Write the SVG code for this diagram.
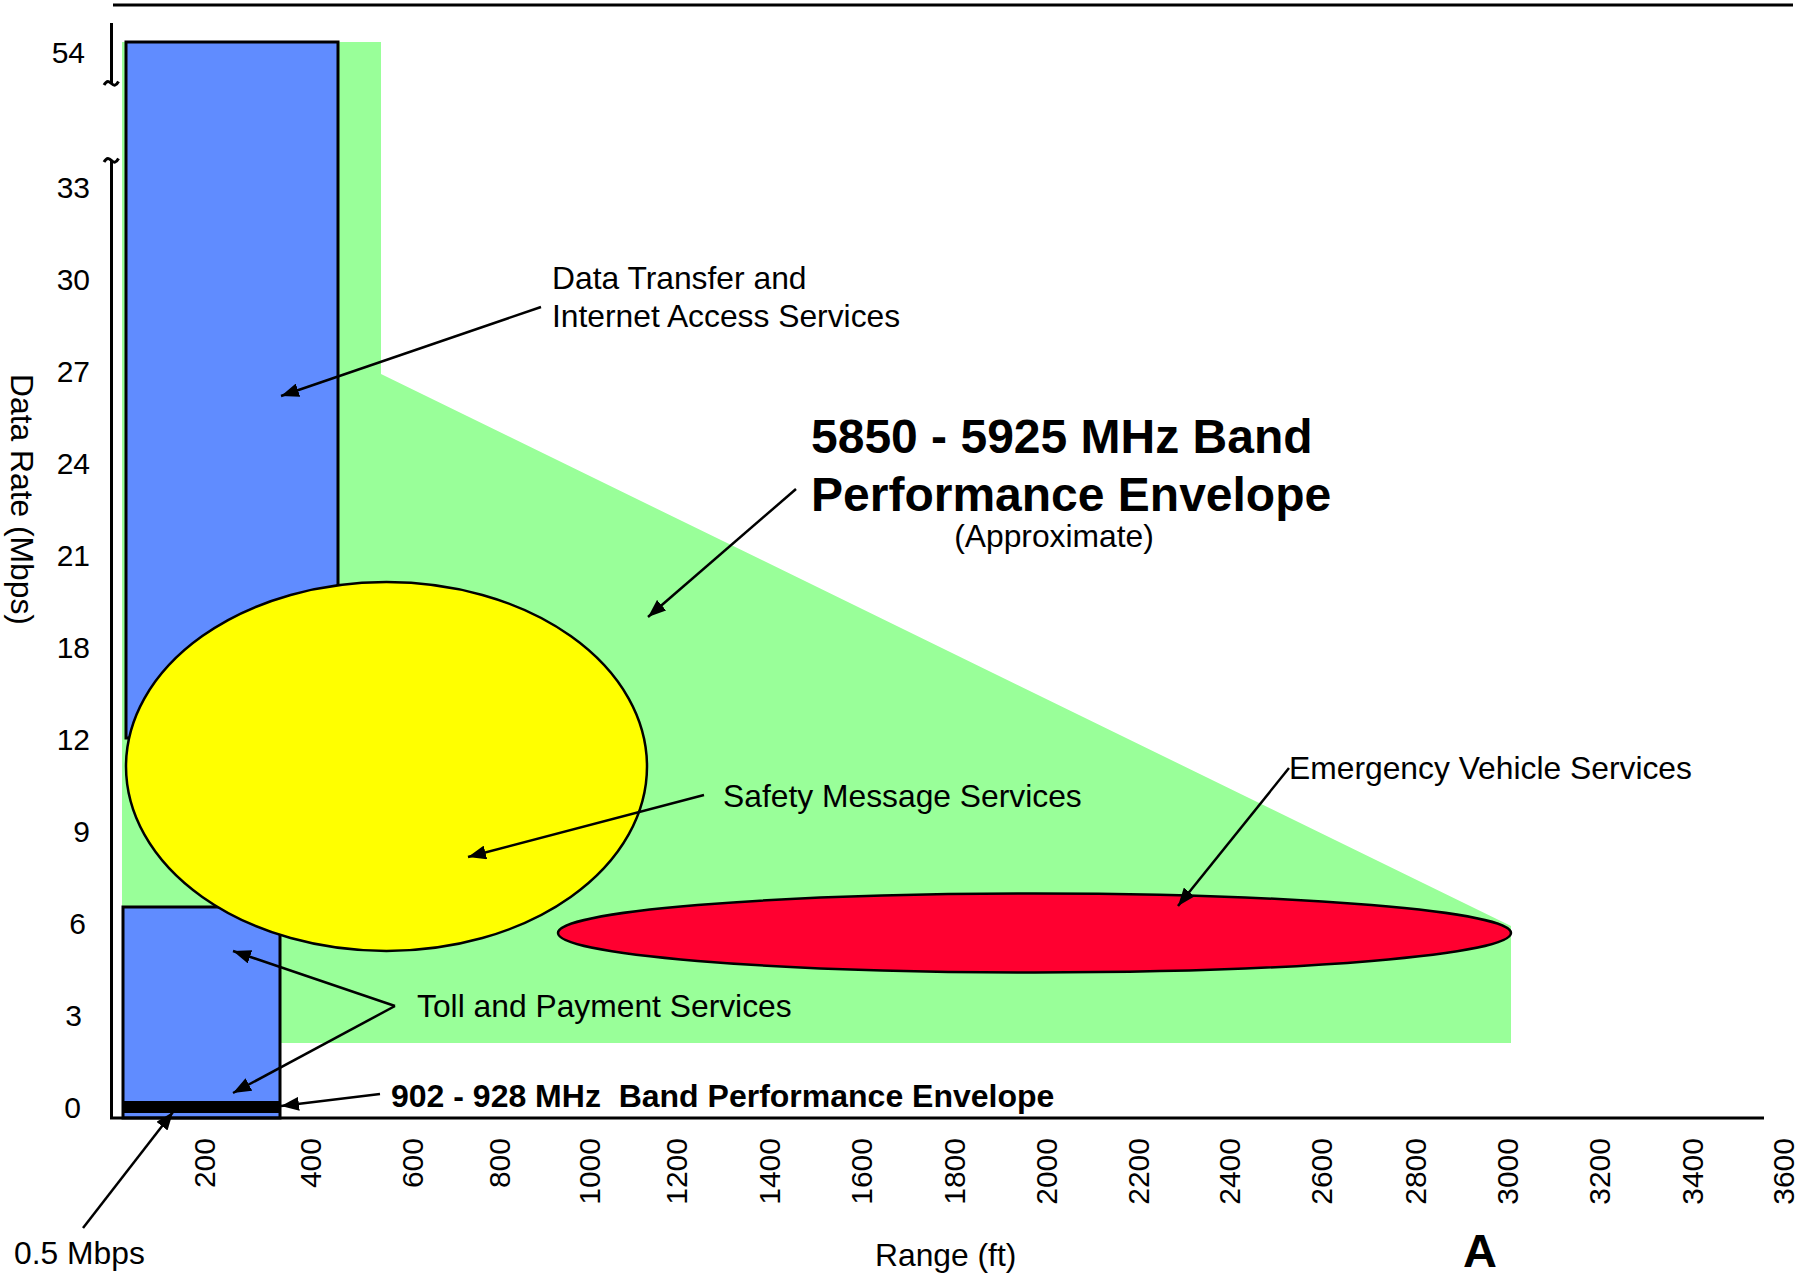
<svg xmlns="http://www.w3.org/2000/svg" width="1812" height="1276" viewBox="0 0 1812 1276">
<style>
text{font-family:"Liberation Sans",Arial,Helvetica,sans-serif;fill:#000}
.lbl{font-size:31.8px}
.tick{font-size:30px}
.bold{font-weight:bold}
.axis{stroke:#000;stroke-width:3;fill:none}
.conn{stroke:#000;stroke-width:2.5;fill:none;marker-end:url(#ah)}
.blue{fill:#608CFF;stroke:#000;stroke-width:3}
</style>
<defs>
<marker id="ah" markerWidth="20" markerHeight="14" refX="18" refY="7" orient="auto" markerUnits="userSpaceOnUse">
<path d="M0,0 L18,7 L0,14 z" fill="#000"/>
</marker>
</defs>
<rect width="1812" height="1276" fill="#fff"/>

<g id="envelope-5850">
<polygon points="122,42 381,42 381,374 1511,926 1511,1043 122,1043" fill="#99FF99"/>
</g>
<g id="data-transfer-box">
<rect x="126" y="42" width="212" height="696" class="blue"/>
</g>
<g id="toll-box">
<rect x="123" y="907" width="157" height="211" class="blue"/>
</g>
<g id="envelope-902">
<rect x="123" y="1101" width="157" height="12" fill="#000"/>
</g>
<g id="safety-ellipse">
<ellipse cx="386.5" cy="766.5" rx="260.5" ry="184.5" fill="#FFFF00" stroke="#000" stroke-width="2.5"/>
</g>
<g id="emergency-ellipse">
<ellipse cx="1034.5" cy="933" rx="476.5" ry="39.5" fill="#FF0030" stroke="#000" stroke-width="2.5"/>
</g>

<g id="axes">
<line x1="113" y1="5" x2="1793" y2="5" class="axis"/>
<line x1="111.5" y1="23" x2="111.5" y2="83" class="axis"/>
<path d="M104,85 c3,-5 5,-4 7.5,-1.5 s4.5,2.5 7,-2" class="axis" stroke-width="2"/>
<path d="M104,162 c3,-5 5,-4 7.5,-1.5 s4.5,2.5 7,-2" class="axis" stroke-width="2"/>
<line x1="111.5" y1="160" x2="111.5" y2="1119" class="axis"/>
<line x1="110" y1="1118" x2="1764" y2="1118" class="axis"/>
</g>

<g id="y-ticks" class="tick" text-anchor="end">
<text x="85" y="63">54</text>
<text x="90" y="198">33</text>
<text x="90" y="290">30</text>
<text x="90" y="382">27</text>
<text x="90" y="474">24</text>
<text x="90" y="566">21</text>
<text x="90" y="658">18</text>
<text x="90" y="750">12</text>
<text x="90" y="842">9</text>
<text x="86" y="934">6</text>
<text x="82" y="1026">3</text>
<text x="81" y="1118">0</text>
</g>

<g id="x-ticks" class="tick" text-anchor="end">
<text transform="translate(215,1138) rotate(-90)">200</text>
<text transform="translate(321,1138) rotate(-90)">400</text>
<text transform="translate(423,1138) rotate(-90)">600</text>
<text transform="translate(510,1138) rotate(-90)">800</text>
<text transform="translate(600,1138) rotate(-90)">1000</text>
<text transform="translate(687,1138) rotate(-90)">1200</text>
<text transform="translate(780,1138) rotate(-90)">1400</text>
<text transform="translate(872,1138) rotate(-90)">1600</text>
<text transform="translate(965,1138) rotate(-90)">1800</text>
<text transform="translate(1057,1138) rotate(-90)">2000</text>
<text transform="translate(1149,1138) rotate(-90)">2200</text>
<text transform="translate(1240,1138) rotate(-90)">2400</text>
<text transform="translate(1332,1138) rotate(-90)">2600</text>
<text transform="translate(1426,1138) rotate(-90)">2800</text>
<text transform="translate(1518,1138) rotate(-90)">3000</text>
<text transform="translate(1610,1138) rotate(-90)">3200</text>
<text transform="translate(1703,1138) rotate(-90)">3400</text>
<text transform="translate(1794,1138) rotate(-90)">3600</text>
</g>

<g id="axis-titles" class="lbl">
<text transform="translate(11,374) rotate(90)">Data Rate (Mbps)</text>
<text x="875" y="1266">Range (ft)</text>
<text x="14" y="1264">0.5 Mbps</text>
<text x="1480" y="1267" text-anchor="middle" class="bold" font-size="47">A</text>
</g>

<g id="label-data-transfer" class="lbl">
<text x="552" y="289">Data Transfer and</text>
<text x="552" y="327">Internet Access Services</text>
</g>
<g id="label-5850">
<text x="811" y="453" class="bold" font-size="48">5850 - 5925 MHz Band</text>
<text x="811" y="511" class="bold" font-size="48">Performance Envelope</text>
<text x="1054" y="547" class="lbl" text-anchor="middle">(Approximate)</text>
</g>
<g id="label-safety" class="lbl">
<text x="723" y="807">Safety Message Services</text>
</g>
<g id="label-emergency" class="lbl">
<text x="1289" y="779">Emergency Vehicle Services</text>
</g>
<g id="label-toll" class="lbl">
<text x="417" y="1017">Toll and Payment Services</text>
</g>
<g id="label-902">
<text x="391" y="1107" class="bold" font-size="32" xml:space="preserve">902 - 928 MHz  Band Performance Envelope</text>
</g>

<g id="connectors">
<line x1="541" y1="307" x2="281" y2="396" class="conn"/>
<line x1="796" y1="489" x2="648" y2="617" class="conn"/>
<line x1="704" y1="795" x2="468" y2="857" class="conn"/>
<line x1="1289" y1="768" x2="1178" y2="906" class="conn"/>
<line x1="395" y1="1006" x2="233" y2="951" class="conn"/>
<line x1="395" y1="1006" x2="233" y2="1093" class="conn"/>
<line x1="380" y1="1094" x2="281" y2="1106" class="conn"/>
<line x1="83" y1="1228" x2="173" y2="1112" class="conn"/>
</g>
</svg>
